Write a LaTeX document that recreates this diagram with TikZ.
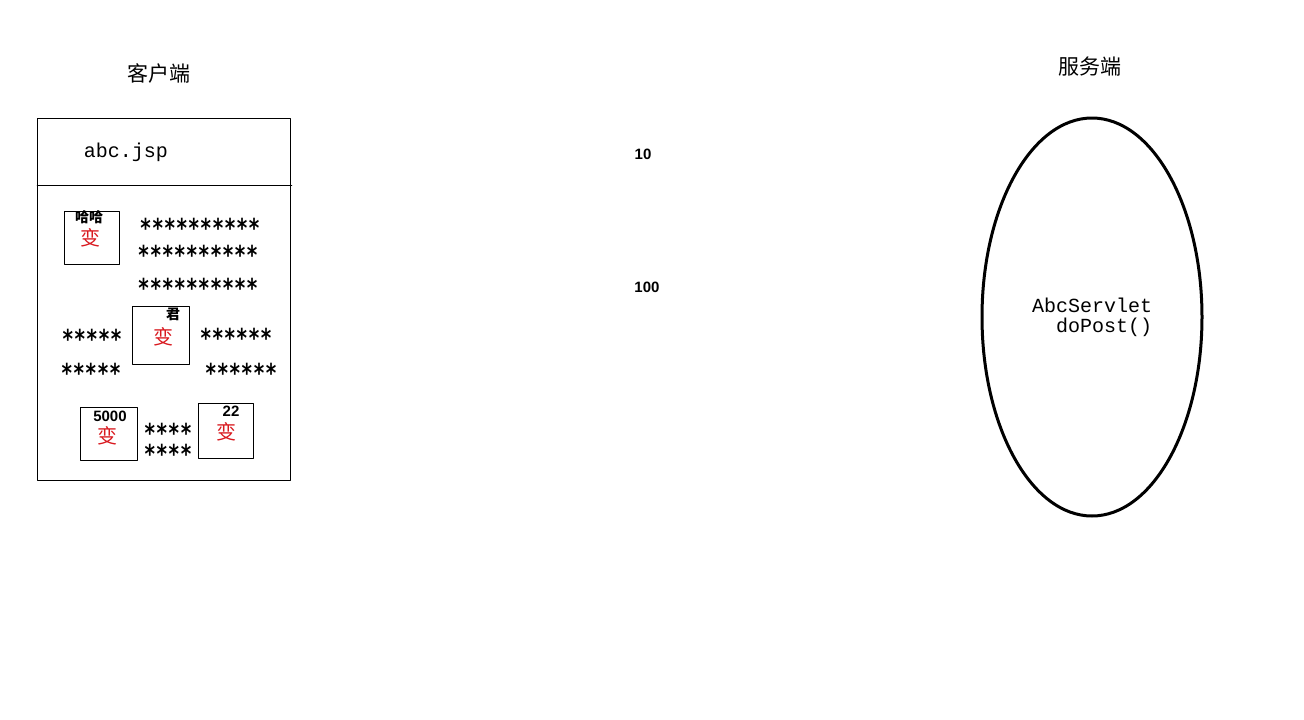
\documentclass[tikz,border=0pt]{standalone}
\usepackage{fontspec}
\setmainfont{Liberation Sans}
\setmonofont{Liberation Mono}
\newfontfamily\cjk{Noto Sans CJK SC}
\newfontfamily\starfont[FakeStretch=0.77]{DejaVu Sans Mono}
\definecolor{bianred}{rgb}{0.85,0.1,0.12}
\tikzset{
  stars/.style={inner sep=0pt,font=\starfont\bfseries\fontsize{26}{21}\selectfont},
  bian/.style={inner sep=0pt,text=bianred,font=\cjk\fontsize{20}{20}\selectfont},
  tag/.style={inner sep=0pt,font=\bfseries\fontsize{15}{15}\selectfont},
  codetxt/.style={inner sep=0pt,font=\ttfamily\fontsize{20}{20}\selectfont},
  title/.style={inner sep=0pt,font=\cjk\fontsize{21}{21}\selectfont}
}
\begin{document}
\begin{tikzpicture}[line cap=round,line join=round,x=1pt,y=-1pt]
\useasboundingbox[fill=white] (0,0) rectangle (1304,720);
% client side
\node[title] (client) at (159,73) {客户端};
\draw (37,118) rectangle (290,480);
\draw (37,185) -- (292,185);
\node[codetxt] (page) at (126,152) {abc.jsp};
% first box
\draw (64,211) rectangle (119,264);
\node[tag,font=\cjk\bfseries\fontsize{14}{14}\selectfont] (haha) at (89,217) {哈哈};
\node[bian] (b1) at (90,238) {变};
\node[stars] (s1) at (200,228) {**********};
\node[stars] (s2) at (198,255) {**********};
\node[stars] (s3) at (198,288) {**********};
% second box
\draw (132,306) rectangle (189,364);
\node[tag,font=\cjk\bfseries\fontsize{14}{14}\selectfont] (jun) at (173,314) {君};
\node[bian] (b2) at (163,337) {变};
\node[stars] (s4) at (92,339) {*****};
\node[stars] (s5) at (91,373) {*****};
\node[stars] (s6) at (236,338) {******};
\node[stars] (s7) at (241,373) {******};
% third and fourth boxes
\draw (80,407) rectangle (137,460);
\node[tag] (n5000) at (110,416) {5000};
\node[bian] (b3) at (107,436) {变};
\node[stars,align=center] (s8) at (168,443) {****\\****};
\draw (198,403) rectangle (253,458);
\node[tag] (n22) at (231,411) {22};
\node[bian] (b4) at (226,432) {变};
% numbers
\node[tag] (ten) at (643,154) {10};
\node[tag] (hundred) at (647,287) {100};
% server side
\node[title] (server) at (1090,67) {服务端};
\draw[line width=3pt] (1092,317) ellipse (110 and 199);
\node[codetxt] (servlet) at (1092,305) {AbcServlet};
\node[codetxt] (post) at (1104,327) {doPost()};
\end{tikzpicture}
\end{document}
